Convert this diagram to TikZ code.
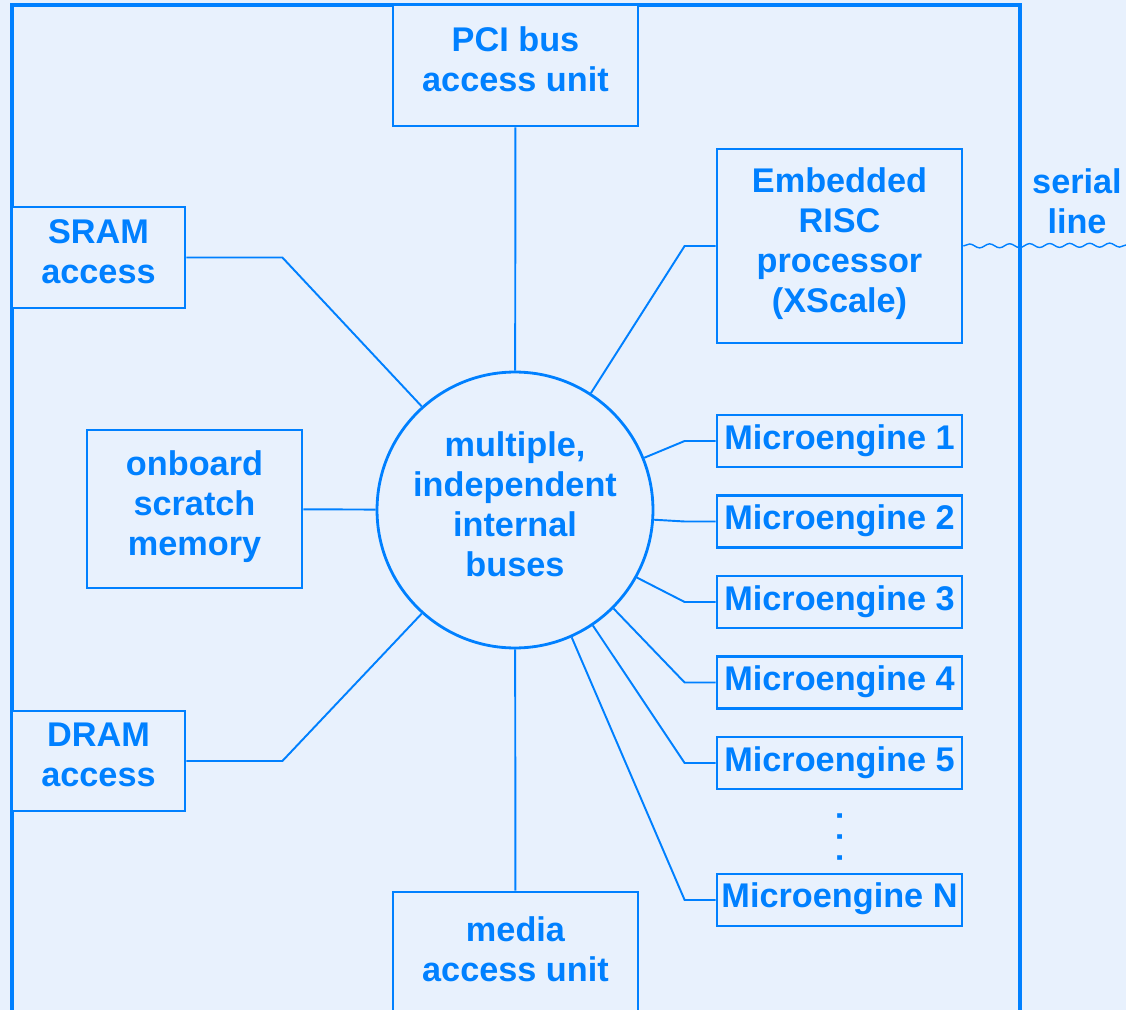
\documentclass[tikz,border=0pt]{standalone}
\usepackage{fontspec}
\setmainfont{Liberation Sans}
\usetikzlibrary{positioning, decorations.pathmorphing}
\definecolor{chipblue}{RGB}{0,128,255}
\definecolor{chipbg}{RGB}{232,241,253}

\begin{document}
\begin{tikzpicture}[
    x=0.02cm, y=-0.02cm,
    lbl/.style={text=chipblue, align=center, font=\fontsize{19.5}{22.8}\selectfont\bfseries,
        execute at begin node=\strut, execute at end node=\strut},
    box/.style={lbl, rectangle, draw=chipblue, line width=1.6pt, fill=chipbg, inner sep=2pt},
    engine/.style={box, minimum width=4.9cm, minimum height=1.04cm},
    link/.style={draw=chipblue, line width=1.1pt},
    wavy/.style={draw=chipblue, line width=0.8pt, decorate, decoration={snake, amplitude=0.4mm, segment length=4mm}}
]

\fill[chipbg] (0,0) rectangle (1126,1010);
\useasboundingbox (0,0) rectangle (1126,1010);
\clip (0,0) rectangle (1126,1010);

\draw[chipblue, line width=2.3pt] (12,1040) -- (12,5) -- (1020,5) -- (1020,1040);

\node[box, minimum width=4.9cm, minimum height=2.42cm] (pci) at (515.5,65.5) {PCI bus\\access unit};
\node[box, minimum width=4.9cm, minimum height=3.88cm] (risc) at (839.5,246) {Embedded\\RISC\\processor\\(XScale)};
\node[box, minimum width=3.46cm, minimum height=2.02cm] (sram) at (98.5,257.5) {SRAM\\access};
\node[box, minimum width=4.3cm, minimum height=3.16cm] (scratch) at (194.5,509) {onboard\\scratch\\memory};
\node[box, minimum width=3.46cm, minimum height=2cm] (dram) at (98.5,761) {DRAM\\access};
\node[box, minimum width=4.9cm, minimum height=2.52cm] (media) at (515.5,955) {media\\access unit};

\node[box, circle, minimum size=5.52cm, inner sep=0pt] (bus) at (515,510) {multiple,\\independent\\internal\\buses};

\node[engine] (me1) at (839.5,441) {Microengine 1};
\node[engine, below=0.514cm of me1] (me2) {Microengine 2};
\node[engine, below=0.514cm of me2] (me3) {Microengine 3};
\node[engine, below=0.514cm of me3] (me4) {Microengine 4};
\node[engine, below=0.514cm of me4] (me5) {Microengine 5};
\node[engine, below=1.644cm of me5] (men) {Microengine N};
\node[text=chipblue, font=\fontsize{18.5}{20}\selectfont\bfseries, rotate=90, inner sep=0pt] (vdots) at (840,837) {. . .};

\node[lbl] (serial) at (1077,207) {serial\\line};
\coordinate (serialend) at (1130,245);

\draw[link] (pci) -- (bus);
\draw[link] (media) -- (bus);
\draw[link] (scratch) -- (bus);
\draw[link] (sram.east) -- ++(96,0) -- (bus.132);
\draw[link] (dram.east) -- ++(96,0) -- (bus.228);
\draw[link] (risc.west) -- ++(-31,0) -- (bus.57);
\draw[link] (me1.west) -- ++(-31,0) -- (bus.22);
\draw[link] (me2.west) -- ++(-31,0) -- (bus.-4);
\draw[link] (me3.west) -- ++(-31,0) -- (bus.-29);
\draw[link] (me4.west) -- ++(-31,0) -- (bus.-45);
\draw[link] (me5.west) -- ++(-31,0) -- (bus.-56);
\draw[link] (men.west) -- ++(-31,0) -- (bus.-66);
\draw[wavy] (risc.east) -- (serialend);

\end{tikzpicture}
\end{document}
